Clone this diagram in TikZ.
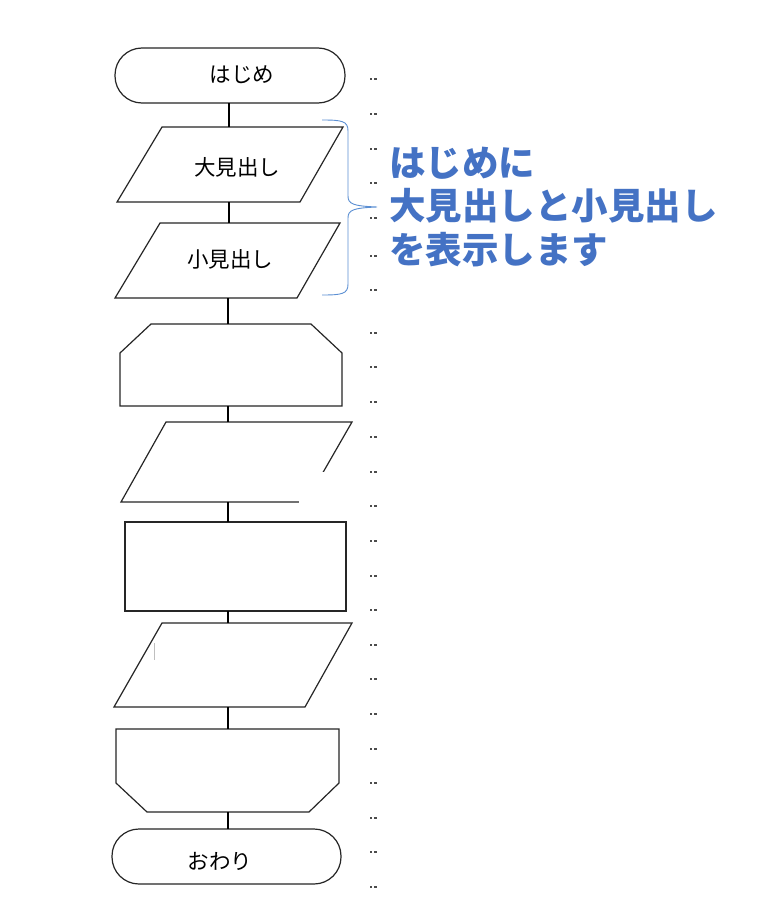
\documentclass[tikz,border=0pt]{standalone}
\usepackage{fontspec}
\newfontfamily\jp{Noto Sans CJK JP}
\definecolor{txtblue}{HTML}{4472C4}
\definecolor{braceblue}{HTML}{5B8FD3}
\definecolor{outline}{HTML}{262626}
\begin{document}
\begin{tikzpicture}[x=1pt,y=-1pt,
  shapeline/.style={draw=outline,line width=1.2pt,line join=miter,fill=white},
  conn/.style={draw=black,line width=2pt},
  fclabel/.style={inner sep=0pt,font=\jp\fontsize{21.5}{25}\selectfont,text=black},
  bluelabel/.style={inner sep=0pt,anchor=base west,font=\jp\bfseries\fontsize{36.5}{42}\selectfont,text=txtblue},
  dotmark/.style={fill=black!70,draw=none}]
\useasboundingbox (0,0) rectangle (756,907);
\fill[white] (0,0) rectangle (756,907);

% ---------- shapes ----------
% start terminal
\draw[shapeline,rounded corners=27pt] (115,48) rectangle (345,103);
\node[fclabel] (start) at (242,75) {はじめ};
% parallelogram 1
\draw[shapeline] (162,127) -- (343,127) -- (300,202) -- (117,202) -- cycle;
\node[fclabel] (p1) at (237,167) {大見出し};
% parallelogram 2
\draw[shapeline] (160,223) -- (340,223) -- (297,298) -- (115,298) -- cycle;
\node[fclabel] (p2) at (230,259) {小見出し};
% loop start (preparation top chamfer)
\draw[shapeline] (151,324) -- (311,324) -- (342,353) -- (342,406) -- (120,406) -- (120,353) -- cycle;
% parallelogram 3
\draw[shapeline] (166,422) -- (352,422) -- (306,502) -- (121,502) -- cycle;
\fill[white] (299,472) rectangle (337,506);
% rectangle
\draw[shapeline] (125,522) rectangle (346,611);
% parallelogram 4
\draw[shapeline] (162,623) -- (352,623) -- (305,707) -- (114,707) -- cycle;
\draw[black!25,line width=0.6pt] (154,643) -- (154,660);
% loop end (bottom chamfer)
\draw[shapeline] (116,729) -- (339,729) -- (339,783) -- (309,812) -- (147,812) -- (116,783) -- cycle;
% end terminal
\draw[shapeline,rounded corners=27pt] (112,829) rectangle (341,884);
\node[fclabel] (end) at (220,861) {おわり};

% ---------- connector anchor points ----------
\coordinate (c1a) at (229,103); \coordinate (c1b) at (229,127);
\coordinate (c2a) at (229,202); \coordinate (c2b) at (229,223);
\coordinate (c3a) at (228,298); \coordinate (c3b) at (228,324);
\coordinate (c4a) at (228,406); \coordinate (c4b) at (228,422);
\coordinate (c5a) at (228,502); \coordinate (c5b) at (228,522);
\coordinate (c6a) at (228,611); \coordinate (c6b) at (228,623);
\coordinate (c7a) at (228,707); \coordinate (c7b) at (228,729);
\coordinate (c8a) at (228,812); \coordinate (c8b) at (228,829);
\foreach \i in {1,...,8}{\draw[conn] (c\i a) -- (c\i b);}

% ---------- brace ----------
\coordinate (brtop) at (322,120);
\coordinate (brtip) at (377,207);
\coordinate (brbot) at (322,295);
\draw[braceblue,line width=0.9pt]
  (brtop) .. controls (342,120) and (348,121) .. (348,131)
  -- (348,196) .. controls (348,204) and (353,206) .. (brtip)
  .. controls (353,208) and (348,210) .. (348,218)
  -- (348,284) .. controls (348,294) and (342,295) .. (brbot);

% ---------- dotted column ----------
\foreach \yy in {79,114,149,183,218,256,290,333,367,402,437,472,506,541,576,610,645,679,714,749,783,818,852,887}{
  \fill[dotmark] (369.5,\yy-1) rectangle (372,\yy+1.2);
  \fill[dotmark] (374,\yy-1) rectangle (376.5,\yy+1.2);
}

% ---------- blue annotation ----------
\node[bluelabel] (t1) at (389,176) {はじめに};
\node[bluelabel] (t2) at (389,219) {大見出しと小見出し};
\node[bluelabel] (t3) at (389,263) {を表示します};
\end{tikzpicture}
\end{document}
